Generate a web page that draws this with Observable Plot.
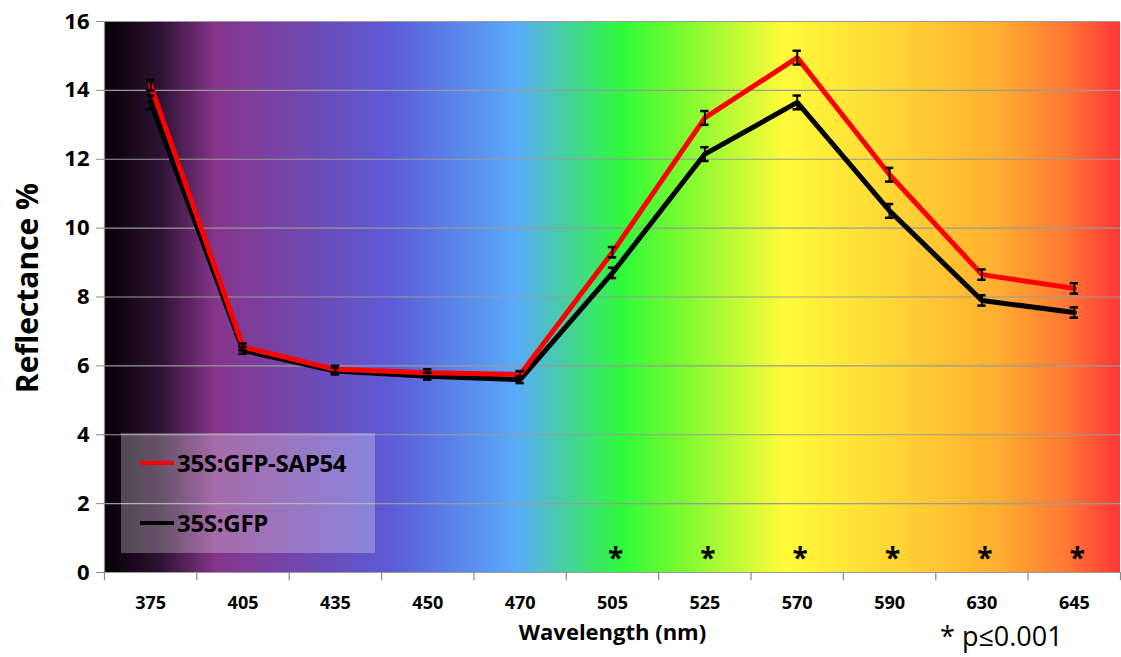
<!DOCTYPE html>
<html>
<head>
<meta charset="utf-8">
<script src="https://cdn.jsdelivr.net/npm/d3@7"></script>
<script src="https://cdn.jsdelivr.net/npm/@observablehq/plot@0.6"></script>
<style>
  html, body { margin: 0; padding: 0; background: #fff; }
  #wrap { position: relative; width: 1121px; height: 657px; font-family: "Open Sans", Lato, sans-serif; }
  #legend { position: absolute; left: 121px; top: 433px; width: 254px; height: 120px; background: rgba(255,255,255,0.27); }
  .item { position: absolute; left: 19px; display: flex; align-items: center; font-weight: bold; font-size: 24px; color: #000; line-height: 1; letter-spacing: -0.3px; }
  .swatch { width: 34px; height: 4px; margin-right: 3px; }
  #pnote { position: absolute; left: 940px; top: 620px; font-size: 27px; color: #000; line-height: 1.2; }
</style>
</head>
<body>
<div id="wrap"></div>
<script>
// ---- data ----
const wavelengths = ["375", "405", "435", "450", "470", "505", "525", "570", "590", "630", "645"];
const sap54 = [14.15, 6.55, 5.9, 5.8, 5.75, 9.3, 13.2, 14.95, 11.55, 8.65, 8.25];
const sap54Err = [0.15, 0.1, 0.1, 0.1, 0.1, 0.15, 0.2, 0.2, 0.2, 0.15, 0.15];
const gfp = [13.65, 6.45, 5.85, 5.7, 5.6, 8.7, 12.15, 13.65, 10.5, 7.9, 7.55];
const gfpErr = [0.2, 0.1, 0.1, 0.1, 0.1, 0.15, 0.2, 0.2, 0.2, 0.15, 0.15];
const significant = [false, false, false, false, false, true, true, true, true, true, true];
const yTicks = [0, 2, 4, 6, 8, 10, 12, 14, 16];
const seriesNames = ["35S:GFP-SAP54", "35S:GFP"];
const seriesColors = ["#ff0000", "#000000"];

// spectrum gradient stops (offset, colour)
const spectrum = [
  [0, "#050005"], [0.055, "#2c1232"], [0.11, "#86358a"], [0.28, "#5c5ad6"],
  [0.405, "#5aaafa"], [0.51, "#2ffa3a"], [0.57, "#7cfa30"], [0.67, "#fffb3a"],
  [0.78, "#ffd535"], [0.88, "#ffae30"], [0.95, "#ff7535"], [1, "#ff3535"]
];

const rows = wavelengths.map((w, i) => ({i, w, red: sap54[i], redErr: sap54Err[i], black: gfp[i], blackErr: gfpErr[i], sig: significant[i]}));
const bounds = d3.range(wavelengths.length + 1).map(k => k - 0.5);
const extent = [{x1: -0.5, x2: wavelengths.length - 0.5}];
const capW = 0.045;

const errRows = [];
rows.forEach(d => {
  errRows.push({i: d.i, lo: d.black - d.blackErr, hi: d.black + d.blackErr});
  errRows.push({i: d.i, lo: d.red - d.redErr, hi: d.red + d.redErr});
});
const caps = errRows.flatMap(e => [{i: e.i, y: e.lo}, {i: e.i, y: e.hi}]);

const chart = Plot.plot({
  width: 1121,
  height: 657,
  marginLeft: 104,
  marginRight: 1,
  marginTop: 21,
  marginBottom: 85,
  style: {fontFamily: "'Open Sans', Lato, sans-serif", background: "transparent"},
  x: {type: "linear", domain: [-0.5, wavelengths.length - 0.5]},
  y: {domain: [0, 16]},
  marks: [
    Plot.rect(extent, {x1: "x1", x2: "x2", y1: 0, y2: 16, fill: "url(#spectrum)"}),
    Plot.ruleY(yTicks.slice(1), {stroke: "#9a9a9a", strokeWidth: 1.2}),
    Plot.ruleX([-0.5], {stroke: "#8a8a8a", strokeWidth: 1.2}),
    Plot.ruleY([0], {stroke: "#9a9a9a", strokeWidth: 1.2}),
    Plot.ruleX(bounds, {y1: 0, y2: -0.24, stroke: "#8a8a8a", strokeWidth: 1.2}),
    Plot.axisY({ticks: yTicks, tickSize: 8, tickPadding: 7, stroke: "#8a8a8a", fontSize: 22, fontWeight: "bold", label: null}),
    Plot.axisX({ticks: d3.range(wavelengths.length), tickFormat: i => wavelengths[i], tickSize: 0, tickPadding: 24, fontSize: 18, fontWeight: "bold", label: null}),
    Plot.text(["Reflectance %"], {frameAnchor: "left", textAnchor: "middle", rotate: -90, dx: -76, dy: -9, fontSize: 30, fontWeight: "bold", fill: "#000"}),
    Plot.text(["Wavelength (nm)"], {frameAnchor: "bottom", dy: 67, fontSize: 22, fontWeight: "bold", fill: "#000"}),
    Plot.line(rows, {x: "i", y: "black", stroke: seriesColors[1], strokeWidth: 5, strokeLinejoin: "miter"}),
    Plot.line(rows, {x: "i", y: "red", stroke: seriesColors[0], strokeWidth: 5, strokeLinejoin: "miter"}),
    Plot.ruleX(errRows, {x: "i", y1: "lo", y2: "hi", stroke: "#000", strokeWidth: 2}),
    Plot.ruleY(caps, {x1: d => d.i - capW, x2: d => d.i + capW, y: "y", stroke: "#000", strokeWidth: 2.5}),
    Plot.text(rows.filter(d => d.sig), {x: "i", y: 0.4, dx: 3, text: () => "*", fontSize: 28, fontWeight: "bold", fill: "#000"})
  ]
});

// gradient definition for the background rect
const svg = d3.select(chart);
const grad = svg.insert("defs", ":first-child").append("linearGradient")
  .attr("id", "spectrum").attr("x1", "0").attr("x2", "1").attr("y1", "0").attr("y2", "0");
spectrum.forEach(([o, c]) => grad.append("stop").attr("offset", o).attr("stop-color", c));

const wrap = document.getElementById("wrap");
wrap.appendChild(chart);

// legend
const legend = document.createElement("div");
legend.id = "legend";
seriesNames.forEach((name, k) => {
  const it = document.createElement("div");
  it.className = "item";
  it.style.top = (k === 0 ? 18 : 78) + "px";
  it.innerHTML = `<span class="swatch" style="background:${seriesColors[k]}"></span><span>${name}</span>`;
  legend.appendChild(it);
});
wrap.appendChild(legend);

const note = document.createElement("div");
note.id = "pnote";
note.textContent = "* p≤0.001";
wrap.appendChild(note);
</script>
</body>
</html>
